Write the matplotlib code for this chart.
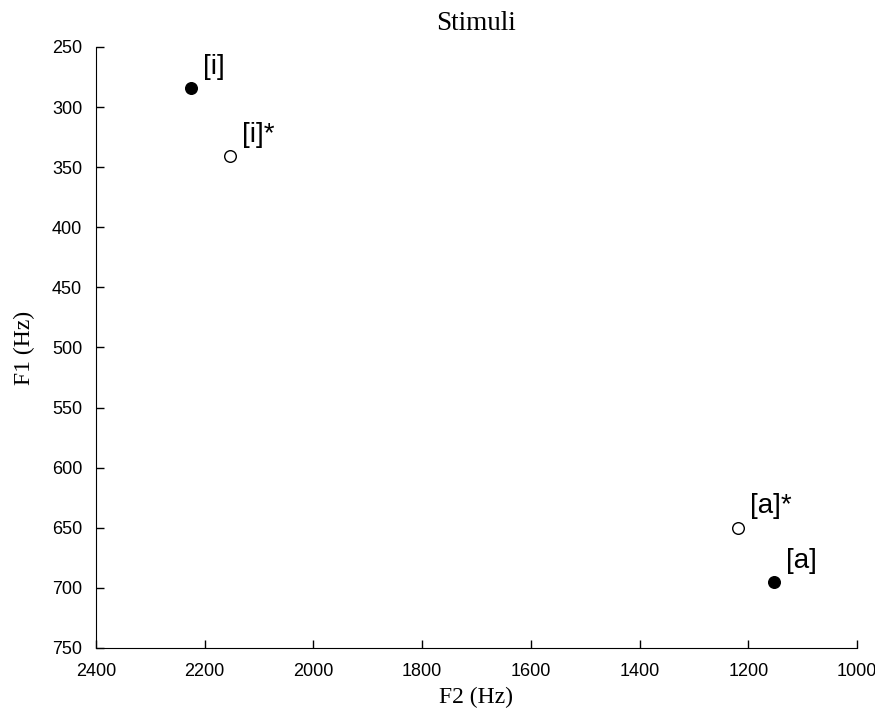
import matplotlib.pyplot as plt

# data
labels = ['[i]', '[i]*', '[a]*', '[a]']
f2 = [2225, 2153, 1219, 1153]
f1 = [284, 341, 650, 695]
filled = [True, False, False, True]

fig = plt.figure(figsize=(8.75, 7.12), dpi=100)
ax = fig.add_axes([0.1097, 0.0899, 0.8697, 0.8441])

for x, y, lab, f in zip(f2, f1, labels, filled):
    ax.scatter(x, y, s=70, facecolor='black' if f else 'white',
               edgecolor='black', linewidth=1.0, zorder=3)
    ax.annotate(lab, (x, y), xytext=(8.5, 6), textcoords='offset points',
                ha='left', va='bottom', fontsize=20, family='Liberation Sans')

ax.set_xlim(2400, 1000)
ax.set_ylim(750, 250)
ax.set_xticks(range(2400, 999, -200))
ax.set_yticks(range(250, 751, 50))

for s in ['top', 'right']:
    ax.spines[s].set_visible(False)
ax.tick_params(axis='both', direction='in', length=5.5, width=1, labelsize=13)
ax.tick_params(axis='x', pad=11)
ax.tick_params(axis='y', pad=10)
for t in ax.get_xticklabels() + ax.get_yticklabels():
    t.set_family('Liberation Sans')

ax.set_xlabel('F2 (Hz)', family='Liberation Serif', fontsize=17, labelpad=5)
ax.set_ylabel('F1 (Hz)', family='Liberation Serif', fontsize=17, labelpad=12)
ax.set_title('Stimuli', family='Liberation Serif', fontsize=19.5, pad=12)

plt.savefig('out.png', dpi=100)
